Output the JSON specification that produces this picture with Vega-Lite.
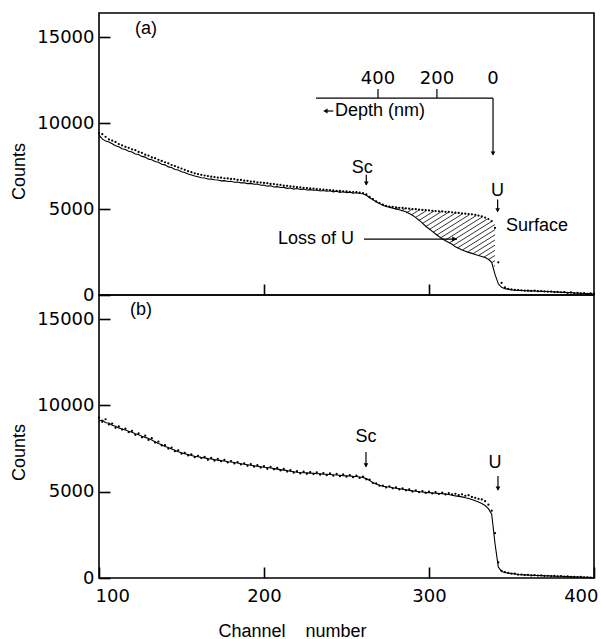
{
"$schema": "https://vega.github.io/schema/vega-lite/v6.json",
"padding": {"left": 9, "top": 12, "right": 6, "bottom": 0},
"bounds": "flush",
"config": {
 "view": {"stroke": "#000", "strokeWidth": 1.6},
 "font": "Liberation Sans",
 "axis": {"domain": false, "grid": false, "format": "d", "tickColor": "#000", "tickWidth": 1.6, "tickSize": 11, "offset": -11, "labelFont": "DejaVu Sans", "labelFontSize": 18, "labelColor": "#000", "titleFont": "Liberation Sans", "titleFontSize": 18, "titleFontWeight": "normal", "titleColor": "#000"}
},
"datasets": {
 "a": [
{"c":100,"l":9300,"d":9420},{"c":102,"l":9080,"d":9350},{"c":104,"l":8950,"d":9200},{"c":106,"l":8900,"d":9050},{"c":108,"l":8800,"d":8980},{"c":110,"l":8680,"d":8900},{"c":112,"l":8620,"d":8780},{"c":114,"l":8500,"d":8700},{"c":116,"l":8460,"d":8620},{"c":118,"l":8360,"d":8560},{"c":120,"l":8320,"d":8470},{"c":122,"l":8200,"d":8420},{"c":124,"l":8170,"d":8320},{"c":126,"l":8060,"d":8270},{"c":128,"l":8020,"d":8160},{"c":130,"l":7900,"d":8110},{"c":132,"l":7870,"d":8000},{"c":134,"l":7760,"d":7960},{"c":136,"l":7720,"d":7860},{"c":138,"l":7600,"d":7800},{"c":140,"l":7570,"d":7720},{"c":142,"l":7450,"d":7660},{"c":144,"l":7420,"d":7560},{"c":146,"l":7300,"d":7500},{"c":148,"l":7270,"d":7420},{"c":150,"l":7170,"d":7350},{"c":152,"l":7120,"d":7280},{"c":154,"l":7040,"d":7200},{"c":156,"l":6980,"d":7140},{"c":158,"l":6920,"d":7080},{"c":160,"l":6880,"d":7030},{"c":162,"l":6820,"d":6990},{"c":164,"l":6800,"d":6950},{"c":166,"l":6750,"d":6920},{"c":168,"l":6740,"d":6880},{"c":170,"l":6700,"d":6860},{"c":172,"l":6690,"d":6830},{"c":174,"l":6640,"d":6820},{"c":176,"l":6650,"d":6790},{"c":178,"l":6600,"d":6780},{"c":180,"l":6610,"d":6750},{"c":182,"l":6560,"d":6740},{"c":184,"l":6570,"d":6700},{"c":186,"l":6520,"d":6690},{"c":188,"l":6530,"d":6650},{"c":190,"l":6480,"d":6640},{"c":192,"l":6490,"d":6600},{"c":194,"l":6440,"d":6590},{"c":196,"l":6450,"d":6550},{"c":198,"l":6380,"d":6540},{"c":200,"l":6400,"d":6520},{"c":202,"l":6330,"d":6500},{"c":204,"l":6350,"d":6460},{"c":206,"l":6280,"d":6450},{"c":208,"l":6300,"d":6420},{"c":210,"l":6250,"d":6400},{"c":212,"l":6260,"d":6360},{"c":214,"l":6200,"d":6350},{"c":216,"l":6220,"d":6320},{"c":218,"l":6160,"d":6300},{"c":220,"l":6190,"d":6280},{"c":222,"l":6140,"d":6260},{"c":224,"l":6160,"d":6230},{"c":226,"l":6110,"d":6220},{"c":228,"l":6130,"d":6200},{"c":230,"l":6090,"d":6190},{"c":232,"l":6110,"d":6160},{"c":234,"l":6050,"d":6150},{"c":236,"l":6080,"d":6130},{"c":238,"l":6030,"d":6120},{"c":240,"l":6060,"d":6100},{"c":242,"l":6000,"d":6080},{"c":244,"l":6030,"d":6060},{"c":246,"l":5970,"d":6050},{"c":248,"l":6000,"d":6030},{"c":250,"l":5950,"d":6020},{"c":252,"l":5980,"d":6000},{"c":254,"l":5920,"d":5990},{"c":256,"l":5950,"d":5980},{"c":258,"l":5900,"d":5960},{"c":260,"l":5890,"d":5920},{"c":262,"l":5800,"d":5850},{"c":264,"l":5660,"d":5700},{"c":266,"l":5540,"d":5580},{"c":268,"l":5420,"d":5440},{"c":270,"l":5320,"d":5350},{"c":272,"l":5220,"d":5260},{"c":274,"l":5150,"d":5180},{"c":276,"l":5110,"d":5140},{"c":278,"l":5050,"d":5120},{"c":280,"l":5010,"d":5090},{"c":282,"l":4960,"d":5070},{"c":284,"l":4900,"d":5060},{"c":286,"l":4840,"d":5040},{"c":288,"l":4740,"d":5020},{"c":290,"l":4640,"d":5000},{"c":292,"l":4500,"d":4990},{"c":294,"l":4350,"d":4970},{"c":296,"l":4180,"d":4950},{"c":298,"l":4000,"d":4940},{"c":300,"l":3850,"d":4920},{"c":302,"l":3700,"d":4900},{"c":304,"l":3550,"d":4880},{"c":306,"l":3400,"d":4870},{"c":308,"l":3270,"d":4860},{"c":310,"l":3150,"d":4840},{"c":312,"l":3050,"d":4830},{"c":314,"l":2950,"d":4810},{"c":316,"l":2800,"d":4790},{"c":318,"l":2720,"d":4770},{"c":320,"l":2620,"d":4750},{"c":322,"l":2550,"d":4730},{"c":324,"l":2480,"d":4710},{"c":326,"l":2420,"d":4690},{"c":328,"l":2360,"d":4660},{"c":330,"l":2300,"d":4620},{"c":332,"l":2240,"d":4570},{"c":334,"l":2180,"d":4500},{"c":336,"l":2080,"d":4420},{"c":338,"l":1900,"d":4300},{"c":340,"l":1200,"d":3900},{"c":342,"l":650,"d":1900},{"c":344,"l":450,"d":700},{"c":346,"l":370,"d":450},{"c":348,"l":330,"d":360},{"c":350,"l":300,"d":330},{"c":352,"l":280,"d":300},{"c":354,"l":270,"d":290},{"c":356,"l":260,"d":270},{"c":358,"l":250,"d":260},{"c":360,"l":240,"d":260},{"c":362,"l":240,"d":240},{"c":364,"l":230,"d":250},{"c":366,"l":220,"d":220},{"c":368,"l":210,"d":230},{"c":370,"l":200,"d":210},{"c":372,"l":200,"d":190},{"c":374,"l":190,"d":200},{"c":376,"l":180,"d":170},{"c":378,"l":170,"d":180},{"c":380,"l":160,"d":160},{"c":382,"l":150,"d":170},{"c":384,"l":140,"d":130},{"c":386,"l":140,"d":150},{"c":388,"l":120,"d":110},{"c":390,"l":110,"d":130},{"c":392,"l":100,"d":90},{"c":394,"l":90,"d":110},{"c":396,"l":80,"d":70},{"c":398,"l":70,"d":90},{"c":400,"l":60,"d":80}
 ],
 "b": [
{"c":100,"l":9100,"d":9300},{"c":102,"l":9150,"d":9050},{"c":104,"l":9000,"d":9200},{"c":106,"l":8980,"d":8900},{"c":108,"l":8850,"d":8950},{"c":110,"l":8800,"d":8700},{"c":112,"l":8700,"d":8780},{"c":114,"l":8640,"d":8600},{"c":116,"l":8580,"d":8650},{"c":118,"l":8500,"d":8450},{"c":120,"l":8450,"d":8520},{"c":122,"l":8360,"d":8300},{"c":124,"l":8300,"d":8380},{"c":126,"l":8220,"d":8150},{"c":128,"l":8150,"d":8250},{"c":130,"l":8080,"d":8000},{"c":132,"l":8000,"d":8100},{"c":134,"l":7900,"d":7850},{"c":136,"l":7800,"d":7900},{"c":138,"l":7720,"d":7680},{"c":140,"l":7620,"d":7700},{"c":142,"l":7560,"d":7500},{"c":144,"l":7480,"d":7560},{"c":146,"l":7400,"d":7350},{"c":148,"l":7320,"d":7390},{"c":150,"l":7260,"d":7200},{"c":152,"l":7200,"d":7250},{"c":154,"l":7150,"d":7100},{"c":156,"l":7100,"d":7160},{"c":158,"l":7060,"d":7000},{"c":160,"l":7030,"d":7080},{"c":162,"l":6990,"d":6950},{"c":164,"l":6960,"d":7020},{"c":166,"l":6920,"d":6850},{"c":168,"l":6900,"d":6960},{"c":170,"l":6860,"d":6800},{"c":172,"l":6830,"d":6900},{"c":174,"l":6800,"d":6760},{"c":176,"l":6780,"d":6840},{"c":178,"l":6740,"d":6700},{"c":180,"l":6720,"d":6780},{"c":182,"l":6690,"d":6640},{"c":184,"l":6660,"d":6720},{"c":186,"l":6620,"d":6580},{"c":188,"l":6590,"d":6650},{"c":190,"l":6560,"d":6500},{"c":192,"l":6530,"d":6600},{"c":194,"l":6500,"d":6450},{"c":196,"l":6480,"d":6540},{"c":198,"l":6450,"d":6400},{"c":200,"l":6420,"d":6480},{"c":202,"l":6400,"d":6330},{"c":204,"l":6370,"d":6440},{"c":206,"l":6340,"d":6300},{"c":208,"l":6310,"d":6380},{"c":210,"l":6280,"d":6230},{"c":212,"l":6250,"d":6320},{"c":214,"l":6220,"d":6170},{"c":216,"l":6190,"d":6250},{"c":218,"l":6160,"d":6100},{"c":220,"l":6130,"d":6190},{"c":222,"l":6110,"d":6060},{"c":224,"l":6100,"d":6160},{"c":226,"l":6090,"d":6040},{"c":228,"l":6080,"d":6140},{"c":230,"l":6070,"d":6020},{"c":232,"l":6050,"d":6120},{"c":234,"l":6040,"d":5990},{"c":236,"l":6020,"d":6080},{"c":238,"l":6010,"d":5960},{"c":240,"l":6000,"d":6060},{"c":242,"l":5980,"d":5930},{"c":244,"l":5970,"d":6030},{"c":246,"l":5950,"d":5900},{"c":248,"l":5930,"d":6000},{"c":250,"l":5920,"d":5870},{"c":252,"l":5910,"d":5960},{"c":254,"l":5890,"d":5840},{"c":256,"l":5880,"d":5930},{"c":258,"l":5850,"d":5800},{"c":260,"l":5820,"d":5870},{"c":262,"l":5760,"d":5720},{"c":264,"l":5650,"d":5700},{"c":266,"l":5540,"d":5500},{"c":268,"l":5450,"d":5480},{"c":270,"l":5380,"d":5350},{"c":272,"l":5320,"d":5360},{"c":274,"l":5290,"d":5250},{"c":276,"l":5270,"d":5310},{"c":278,"l":5230,"d":5200},{"c":280,"l":5200,"d":5250},{"c":282,"l":5170,"d":5130},{"c":284,"l":5140,"d":5190},{"c":286,"l":5110,"d":5080},{"c":288,"l":5080,"d":5130},{"c":290,"l":5050,"d":5010},{"c":292,"l":5030,"d":5080},{"c":294,"l":5000,"d":4970},{"c":296,"l":4980,"d":5030},{"c":298,"l":4960,"d":4930},{"c":300,"l":4950,"d":5000},{"c":302,"l":4930,"d":4900},{"c":304,"l":4920,"d":4980},{"c":306,"l":4900,"d":4870},{"c":308,"l":4890,"d":4950},{"c":310,"l":4870,"d":4840},{"c":312,"l":4840,"d":4920},{"c":314,"l":4800,"d":4850},{"c":316,"l":4760,"d":4880},{"c":318,"l":4730,"d":4800},{"c":320,"l":4700,"d":4850},{"c":322,"l":4650,"d":4760},{"c":324,"l":4610,"d":4800},{"c":326,"l":4550,"d":4700},{"c":328,"l":4480,"d":4650},{"c":330,"l":4400,"d":4580},{"c":332,"l":4320,"d":4550},{"c":334,"l":4200,"d":4450},{"c":336,"l":4020,"d":4250},{"c":338,"l":3700,"d":3900},{"c":340,"l":2000,"d":2600},{"c":342,"l":640,"d":900},{"c":344,"l":380,"d":420},{"c":346,"l":320,"d":340},{"c":348,"l":280,"d":300},{"c":350,"l":260,"d":250},{"c":352,"l":230,"d":250},{"c":354,"l":200,"d":190},{"c":356,"l":190,"d":200},{"c":358,"l":180,"d":170},{"c":360,"l":170,"d":180},{"c":362,"l":160,"d":150},{"c":364,"l":150,"d":160},{"c":366,"l":145,"d":140},{"c":368,"l":140,"d":150},{"c":370,"l":130,"d":120},{"c":372,"l":125,"d":130},{"c":374,"l":120,"d":110},{"c":376,"l":110,"d":120},{"c":378,"l":105,"d":100},{"c":380,"l":100,"d":110},{"c":382,"l":90,"d":80},{"c":384,"l":80,"d":90},{"c":386,"l":70,"d":60},{"c":388,"l":65,"d":70},{"c":390,"l":55,"d":50},{"c":392,"l":50,"d":60},{"c":394,"l":40,"d":30},{"c":396,"l":35,"d":40},{"c":398,"l":25,"d":20},{"c":400,"l":20,"d":30}
 ],
 "hatch": [
{"c":276.2,"v":5072,"c2":277.1,"v2":5126},{"c":279.6,"v":4976,"c2":281.4,"v2":5084},{"c":283.0,"v":4880,"c2":285.6,"v2":5036},{"c":286.3,"v":4778,"c2":289.9,"v2":4994},{"c":289.4,"v":4664,"c2":294.2,"v2":4952},{"c":291.6,"v":4496,"c2":298.6,"v2":4916},{"c":293.8,"v":4328,"c2":303.0,"v2":4880},{"c":295.9,"v":4154,"c2":307.4,"v2":4844},{"c":298.1,"v":3986,"c2":311.8,"v2":4808},{"c":300.3,"v":3818,"c2":316.3,"v2":4778},{"c":302.4,"v":3644,"c2":320.4,"v2":4724},{"c":304.8,"v":3488,"c2":324.5,"v2":4670},{"c":307.3,"v":3338,"c2":328.7,"v2":4622},{"c":309.7,"v":3182,"c2":332.3,"v2":4538},{"c":312.2,"v":3032,"c2":335.2,"v2":4412},{"c":314.6,"v":2876,"c2":338.1,"v2":4286},{"c":317.1,"v":2726,"c2":340,"v2":4100},{"c":320.3,"v":2618,"c2":340,"v2":3800},{"c":323.6,"v":2516,"c2":340,"v2":3500},{"c":326.8,"v":2408,"c2":340,"v2":3200},{"c":330.0,"v":2300,"c2":340,"v2":2900},{"c":333.1,"v":2186,"c2":340,"v2":2600},{"c":336.0,"v":2060,"c2":340,"v2":2300},{"c":338.3,"v":1898,"c2":340,"v2":2000},{"c":339.3,"v":1658,"c2":340,"v2":1700}
 ]
},
"spacing": 0,
"vconcat": [
 {
  "width": 495, "height": 282,
  "encoding": {
   "x": {"field": "c", "type": "quantitative", "scale": {"domain": [100, 400], "nice": false}, "axis": {"values": [200, 300], "labels": false, "title": null}},
   "y": {"field": "v", "type": "quantitative", "scale": {"domain": [0, 16400], "nice": false}, "axis": {"values": [0, 5000, 10000, 15000], "title": "Counts", "titleY": 158, "labelPadding": 5, "titlePadding": 8}}
  },
  "layer": [
   {"data": {"name": "hatch"}, "mark": {"type": "rule", "color": "#000", "strokeWidth": 0.8},
    "encoding": {"x2": {"field": "c2"}, "y2": {"field": "v2"}}},
   {"data": {"name": "a"}, "mark": {"type": "line", "color": "#000", "strokeWidth": 1.1},
    "encoding": {"y": {"field": "l", "type": "quantitative"}}},
   {"data": {"name": "a"}, "mark": {"type": "circle", "color": "#000", "size": 5, "opacity": 1},
    "encoding": {"y": {"field": "d", "type": "quantitative"}}},
   {"data": {"values": [
     {"c": 262, "v": 7000, "c2": 262, "v2": 6400},
     {"c": 341.6, "v": 5550, "c2": 341.6, "v2": 4850},
     {"c": 231.5, "v": 11450, "c2": 338.8, "v2": 11450},
     {"c": 269.1, "v": 11450, "c2": 269.1, "v2": 11980},
     {"c": 304.8, "v": 11450, "c2": 304.8, "v2": 11980},
     {"c": 338.8, "v": 11450, "c2": 338.8, "v2": 8150},
     {"c": 260.6, "v": 3250, "c2": 317, "v2": 3250},
     {"c": 237, "v": 10700, "c2": 242, "v2": 10700}]},
    "mark": {"type": "rule", "color": "#000", "strokeWidth": 1.2},
    "encoding": {"x2": {"field": "c2"}, "y2": {"field": "v2"}}},
   {"data": {"values": [{"c": 262, "v": 6480}, {"c": 341.6, "v": 4930}, {"c": 338.8, "v": 8230}]},
    "mark": {"type": "point", "shape": "triangle-down", "filled": true, "color": "#000", "size": 22, "opacity": 1}},
   {"data": {"values": [{"c": 315.5, "v": 3250}]},
    "mark": {"type": "point", "shape": "triangle-right", "filled": true, "color": "#000", "size": 30, "opacity": 1}},
   {"data": {"values": [{"c": 237.2, "v": 10700}]},
    "mark": {"type": "point", "shape": "triangle-left", "filled": true, "color": "#000", "size": 26, "opacity": 1}},
   {"data": {"values": [{"c": 128.5, "v": 15450, "t": "(a)"}, {"c": 259.5, "v": 7380, "t": "Sc"}, {"c": 341.5, "v": 6050, "t": "U"}]},
    "mark": {"type": "text", "font": "Liberation Sans", "fontSize": 18, "align": "center", "baseline": "middle", "color": "#000"},
    "encoding": {"text": {"field": "t"}}},
   {"data": {"values": [{"c": 269.1, "v": 12560, "t": "400"}, {"c": 304.8, "v": 12560, "t": "200"}, {"c": 338.8, "v": 12560, "t": "0"}]},
    "mark": {"type": "text", "font": "DejaVu Sans", "fontSize": 18, "align": "center", "baseline": "middle", "color": "#000"},
    "encoding": {"text": {"field": "t"}}},
   {"data": {"values": [{"c": 346.7, "v": 4010, "t": "Surface"}, {"c": 208.5, "v": 3250, "t": "Loss of U"}, {"c": 243, "v": 10700, "t": "Depth (nm)"}]},
    "mark": {"type": "text", "font": "Liberation Sans", "fontSize": 18, "align": "left", "baseline": "middle", "color": "#000"},
    "encoding": {"text": {"field": "t"}}}
  ]
 },
 {
  "width": 495, "height": 283,
  "encoding": {
   "x": {"field": "c", "type": "quantitative", "scale": {"domain": [100, 400], "nice": false}, "axis": {"values": [100, 200, 300, 400], "title": "Channel\u00a0\u00a0\u00a0\u00a0number", "titleX": 193, "titleY": 55, "labelPadding": 9, "labelFlush": true, "labelFlushOffset": 4}},
   "y": {"field": "v", "type": "quantitative", "scale": {"domain": [0, 16400], "nice": false}, "axis": {"values": [0, 5000, 10000, 15000], "title": "Counts", "titleY": 157, "labelPadding": 5, "titlePadding": 8}}
  },
  "layer": [
   {"data": {"name": "b"}, "mark": {"type": "line", "color": "#000", "strokeWidth": 1.1},
    "encoding": {"y": {"field": "l", "type": "quantitative"}}},
   {"data": {"name": "b"}, "mark": {"type": "circle", "color": "#000", "size": 5, "opacity": 1},
    "encoding": {"y": {"field": "d", "type": "quantitative"}}},
   {"data": {"values": [
     {"c": 261.8, "v": 7300, "c2": 261.8, "v2": 6450},
     {"c": 341.8, "v": 5910, "c2": 341.8, "v2": 5100}]},
    "mark": {"type": "rule", "color": "#000", "strokeWidth": 1.2},
    "encoding": {"x2": {"field": "c2"}, "y2": {"field": "v2"}}},
   {"data": {"values": [{"c": 261.8, "v": 6530}, {"c": 341.8, "v": 5180}]},
    "mark": {"type": "point", "shape": "triangle-down", "filled": true, "color": "#000", "size": 22, "opacity": 1}},
   {"data": {"values": [{"c": 125.5, "v": 15530, "t": "(b)"}, {"c": 261.8, "v": 8170, "t": "Sc"}, {"c": 340, "v": 6660, "t": "U"}]},
    "mark": {"type": "text", "font": "Liberation Sans", "fontSize": 18, "align": "center", "baseline": "middle", "color": "#000"},
    "encoding": {"text": {"field": "t"}}}
  ]
 }
]
}
